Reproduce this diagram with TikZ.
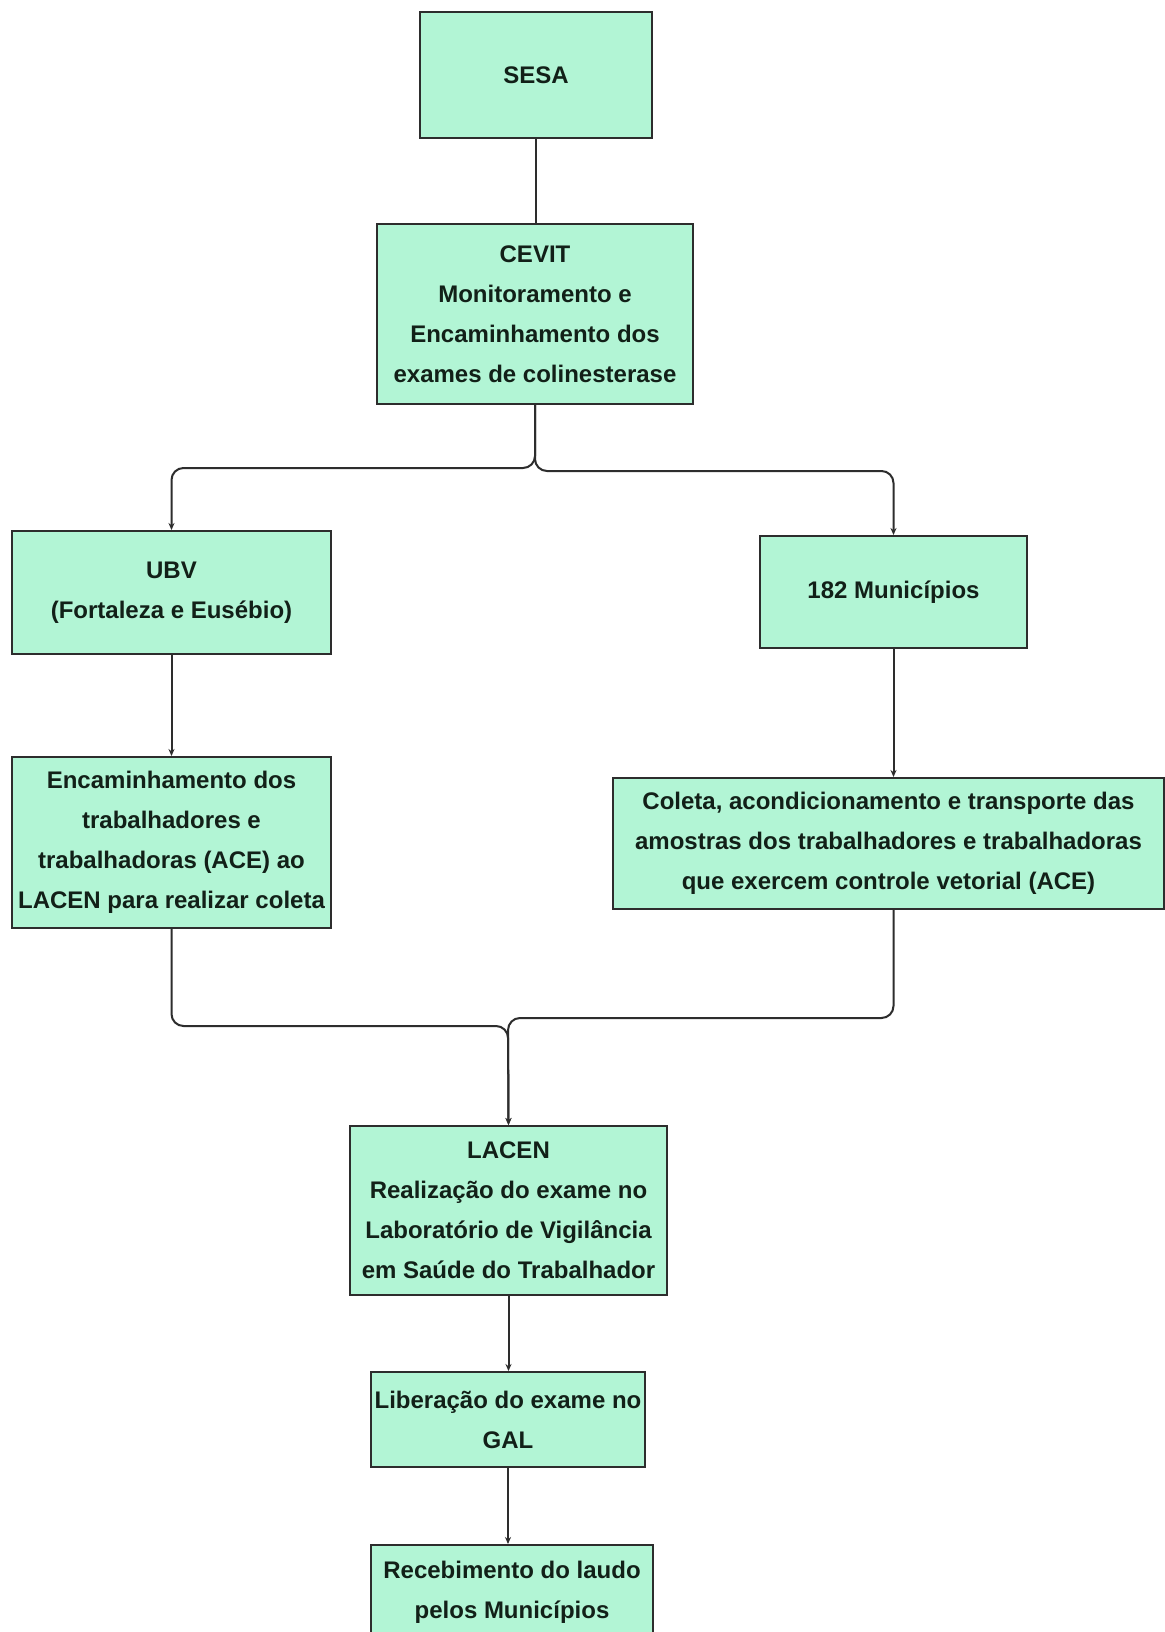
\documentclass[tikz,border=0pt]{standalone}
\usepackage{fontspec}
\setmainfont{Liberation Sans}
\usepackage{tikz}
\usetikzlibrary{arrows.meta}
\definecolor{mint}{RGB}{178,245,213}
\definecolor{edge}{RGB}{45,45,45}
\definecolor{ink}{RGB}{18,32,24}

\begin{document}
\begin{tikzpicture}[
  x=0.5pt, y=-0.5pt,
  box/.style={
    draw=edge, line width=1pt, fill=mint, text=ink,
    align=center, inner sep=1pt,
    font=\fontsize{12}{20}\selectfont\bfseries,
  },
  link/.style={
    draw=edge, line width=1pt, rounded corners=6pt,
    -{Stealth[length=3.5pt,width=3pt]},
  }
]
\path[use as bounding box] (0,0) rectangle (1165,1632);
\clip (0,0) rectangle (1165,1632);
\fill[white] (0,0) rectangle (1165,1632);

\node[box, minimum width=116pt, minimum height=63pt] (sesa) at (536,75) {SESA};
\node[box, minimum width=158pt, minimum height=90pt] (cevit) at (535,314)
  {CEVIT\\Monitoramento e\\Encaminhamento dos\\exames de colinesterase};
\node[box, minimum width=159.5pt, minimum height=61.5pt] (ubv) at (171.5,592.5)
  {UBV\\(Fortaleza e Eusébio)};
\node[box, minimum width=133.5pt, minimum height=56pt] (mun) at (893.5,592)
  {182 Municípios};
\node[box, minimum width=159.5pt, minimum height=85.5pt] (enc) at (171.5,842.5)
  {Encaminhamento dos\\trabalhadores e\\trabalhadoras (ACE) ao\\LACEN para realizar coleta};
\node[box, minimum width=275.5pt, minimum height=65.5pt] (coleta) at (888.5,843.5)
  {Coleta, acondicionamento e transporte das\\amostras dos trabalhadores e trabalhadoras\\que exercem controle vetorial (ACE)};
\node[box, minimum width=158.5pt, minimum height=84.5pt] (lacen) at (508.5,1210.5)
  {LACEN\\Realização do exame no\\Laboratório de Vigilância\\em Saúde do Trabalhador};
\node[box, minimum width=137pt, minimum height=47.5pt] (lib) at (508,1419.5)
  {Liberação do exame no\\GAL};
\node[box, minimum width=141pt, minimum height=47pt] (rec) at (512,1592)
  {Recebimento do laudo\\pelos Municípios};

\coordinate (splitL) at (535,468);
\coordinate (splitR) at (535,471);
\coordinate (mergeL) at (508,1026);
\coordinate (mergeR) at (508,1018);

\draw[draw=edge, line width=1pt] (sesa.south) -- (sesa.south |- cevit.north);
\draw[link] (cevit.south) -- (splitL) -| (ubv.north);
\draw[link] (cevit.south) -- (splitR) -| (mun.north);
\draw[link] (ubv.south) -- (enc.north);
\draw[link] (mun.south) -- (mun.south |- coleta.north);
\draw[link] (enc.south) |- (mergeL) -- (lacen.north);
\draw[link] (coleta.south -| mun.south) |- (mergeR) -- (lacen.north);
\draw[link] (lacen.south) -- (lacen.south |- lib.north);
\draw[link] (lib.south) -- (lib.south |- rec.north);
\end{tikzpicture}
\end{document}
